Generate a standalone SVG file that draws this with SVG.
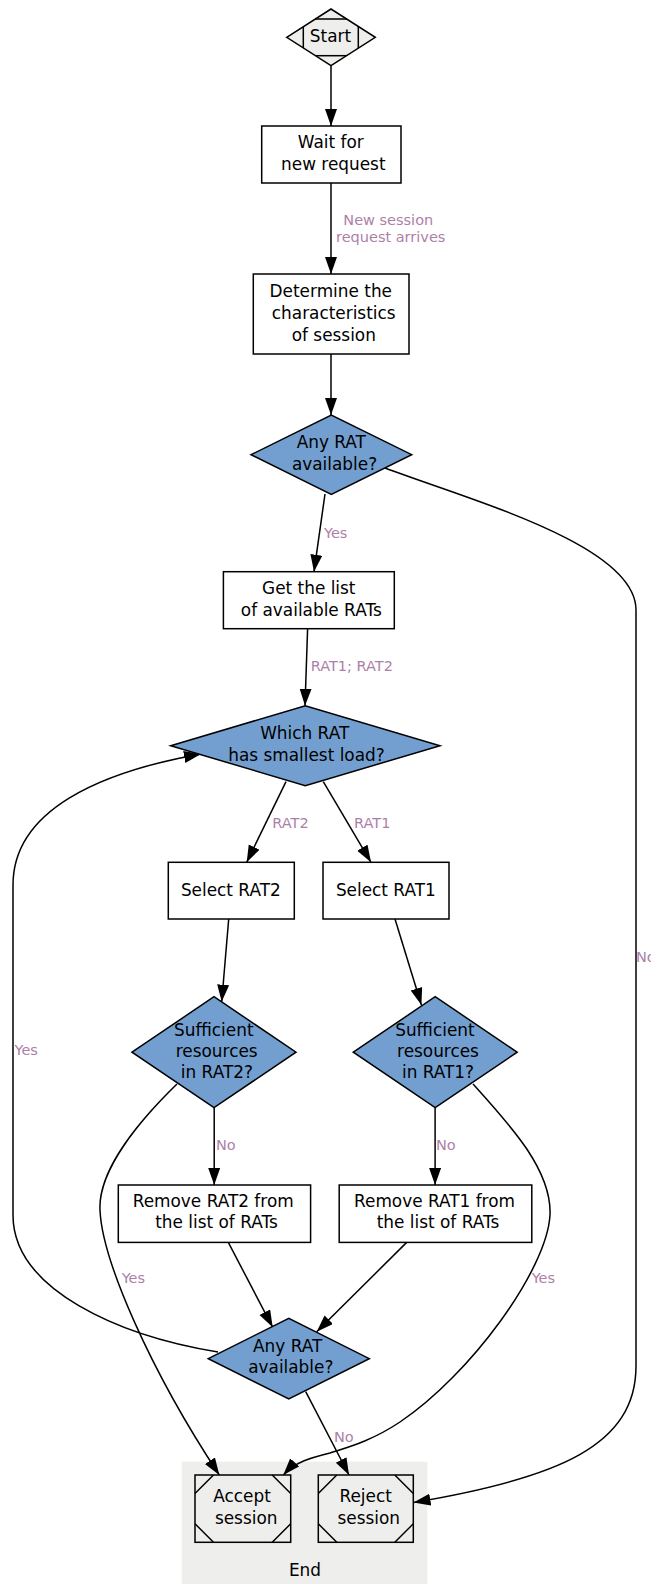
<svg xmlns="http://www.w3.org/2000/svg" width="651" height="1584" viewBox="0 0 651 1584">
  <defs>
    <style>
      .box { fill: #ffffff; stroke: #000000; stroke-width: 1.5; }
      .dec { fill: #729fcf; stroke: #000000; stroke-width: 1.5; }
      .term { fill: #eeeeec; stroke: #000000; stroke-width: 1.5; }
      .mark { fill: none; stroke: #000000; stroke-width: 1.5; }
      .t { font-family: "DejaVu Sans", "Liberation Sans", sans-serif; font-size: 16.9px; fill: #000000; text-anchor: middle; }
      .lbl { font-family: "DejaVu Sans", "Liberation Sans", sans-serif; font-size: 14.5px; fill: #ad7fa8; }
      .edge { fill: none; stroke: #000000; stroke-width: 1.5; marker-end: url(#arrow); }
    </style>
    <marker id="arrow" markerUnits="userSpaceOnUse" markerWidth="18" markerHeight="13" refX="17" refY="6" orient="auto">
      <path d="M0,0 L17,6 L0,12 Z" fill="#000000"/>
    </marker>
    <clipPath id="startClip">
      <polygon points="286.7,37.3 331,9 375.3,37.3 331,65.7"/>
    </clipPath>
  </defs>

  <!-- cluster holding the terminal states -->
  <g id="cluster_end">
    <rect x="181.7" y="1461.7" width="245.6" height="130" fill="#eeeeec"/>
    <text class="t" x="305" y="1576">End</text>
  </g>

  <!-- connectors -->
  <g id="edges">
    <path class="edge" d="M331,65.7 L331,126"/>
    <path class="edge" d="M331,183 L331,274"/>
    <path class="edge" d="M331,354 L331,415"/>
    <path class="edge" d="M325,494 L314,571.7"/>
    <path class="edge" d="M307.6,628.7 L305,705.7"/>
    <path class="edge" d="M286,781.7 L246.7,862.3"/>
    <path class="edge" d="M323.3,781.7 L371,862.3"/>
    <path class="edge" d="M228.7,919 L221.7,1001.7"/>
    <path class="edge" d="M395,919 L421.4,1005"/>
    <path class="edge" d="M214.2,1107.7 L214.2,1185"/>
    <path class="edge" d="M435.1,1107.7 L435.1,1185"/>
    <path class="edge" d="M228.3,1242.4 L272.7,1327.3"/>
    <path class="edge" d="M406.7,1242.4 L316.7,1331.7"/>
    <path class="edge" d="M305.7,1391.7 L349,1475"/>
    <!-- retry loop back to the load decision -->
    <path class="edge" d="M218,1352 C120,1336 13,1290 13,1215 L13,885 C13,810 100,772 201,754"/>
    <!-- accept paths -->
    <path class="edge" d="M177,1084 C140,1120 98,1170 100,1210 C102,1260 150,1370 219.3,1475"/>
    <path class="edge" d="M473,1084 C510,1125 552,1170 550,1215 C547,1270 470,1375 400,1422 C370,1442 345,1448 330,1453 C310,1458 295,1462 283.3,1475"/>
    <!-- no RAT at all -->
    <path class="edge" d="M385,468 C470,500 636,545 636,610 L636,1366 C636,1445 560,1478 413.5,1502.5"/>

    <text class="lbl" x="343.3" y="225">New session</text>
    <text class="lbl" x="336" y="242.3">request arrives</text>
    <text class="lbl" x="324" y="537.7">Yes</text>
    <text class="lbl" x="310.7" y="670.7">RAT1; RAT2</text>
    <text class="lbl" x="272.3" y="828.3">RAT2</text>
    <text class="lbl" x="354" y="828.3">RAT1</text>
    <text class="lbl" x="636" y="961.7">No</text>
    <text class="lbl" x="14.5" y="1055">Yes</text>
    <text class="lbl" x="216" y="1150">No</text>
    <text class="lbl" x="436" y="1150">No</text>
    <text class="lbl" x="121.7" y="1283.3">Yes</text>
    <text class="lbl" x="531.7" y="1283.3">Yes</text>
    <text class="lbl" x="334" y="1441.7">No</text>
  </g>

  <g id="start">
    <polygon class="term" points="286.7,37.3 331,9 375.3,37.3 331,65.7"/>
    <rect class="mark" x="303.3" y="19" width="55" height="36.7" clip-path="url(#startClip)"/>
    <text class="t" x="330.5" y="41.7">Start</text>
  </g>

  <g id="wait">
    <rect class="box" x="261.7" y="126" width="139.3" height="57"/>
    <text class="t" x="330.8" y="148">Wait for</text>
    <text class="t" x="333.3" y="170">new request</text>
  </g>

  <g id="determine">
    <rect class="box" x="253.3" y="274" width="155.7" height="80"/>
    <text class="t" x="330.8" y="297">Determine the</text>
    <text class="t" x="333.7" y="319">characteristics</text>
    <text class="t" x="333.8" y="340.5">of session</text>
  </g>

  <g id="any_rat_1">
    <polygon class="dec" points="251,454.7 331.3,415 411.7,454.7 331.3,494.3"/>
    <text class="t" x="331.3" y="448.3">Any RAT</text>
    <text class="t" x="334.5" y="469.5">available?</text>
  </g>

  <g id="get_list">
    <rect class="box" x="223.4" y="571.7" width="170.9" height="57"/>
    <text class="t" x="308.8" y="594.3">Get the list</text>
    <text class="t" x="311.3" y="616">of available RATs</text>
  </g>

  <g id="smallest_load">
    <polygon class="dec" points="170.7,745.7 305.3,705.7 440,745.7 305.3,785.7"/>
    <text class="t" x="304.7" y="739">Which RAT</text>
    <text class="t" x="306.5" y="760.5">has smallest load?</text>
  </g>

  <g id="select_rat2">
    <rect class="box" x="168.3" y="862.3" width="126" height="56.7"/>
    <text class="t" x="230.8" y="896">Select RAT2</text>
  </g>

  <g id="select_rat1">
    <rect class="box" x="323" y="862.3" width="126" height="56.7"/>
    <text class="t" x="385.8" y="896">Select RAT1</text>
  </g>

  <g id="sufficient_rat2">
    <polygon class="dec" points="132,1052.2 214,996.7 296,1052.2 214,1107.7"/>
    <text class="t" x="213.8" y="1035.7">Sufficient</text>
    <text class="t" x="216.7" y="1057.3">resources</text>
    <text class="t" x="216.9" y="1078.3">in RAT2?</text>
  </g>

  <g id="sufficient_rat1">
    <polygon class="dec" points="353.3,1052.2 435.2,996.7 517.2,1052.2 435.2,1107.7"/>
    <text class="t" x="434.9" y="1035.7">Sufficient</text>
    <text class="t" x="438" y="1057.3">resources</text>
    <text class="t" x="438" y="1078.3">in RAT1?</text>
  </g>

  <g id="remove_rat2">
    <rect class="box" x="118.3" y="1185" width="192.3" height="57.4"/>
    <text class="t" x="213.2" y="1206.7">Remove RAT2 from</text>
    <text class="t" x="216.5" y="1227.7">the list of RATs</text>
  </g>

  <g id="remove_rat1">
    <rect class="box" x="339.2" y="1185" width="192.6" height="57.4"/>
    <text class="t" x="434.5" y="1206.7">Remove RAT1 from</text>
    <text class="t" x="438" y="1227.7">the list of RATs</text>
  </g>

  <g id="any_rat_2">
    <polygon class="dec" points="208.3,1358.7 288.8,1318.3 369.3,1358.7 288.8,1399"/>
    <text class="t" x="287.7" y="1351.7">Any RAT</text>
    <text class="t" x="290.8" y="1373.3">available?</text>
  </g>

  <g id="accept">
    <rect class="term" x="195" y="1475" width="95.7" height="67.3"/>
    <path class="mark" d="M195,1493.5 L213.5,1475 M272.2,1475 L290.7,1493.5 M290.7,1523.8 L272.2,1542.3 M213.5,1542.3 L195,1523.8"/>
    <text class="t" x="242" y="1501.7">Accept</text>
    <text class="t" x="246.2" y="1524.3">session</text>
  </g>

  <g id="reject">
    <rect class="term" x="318.3" y="1475" width="95" height="67.3"/>
    <path class="mark" d="M318.3,1493.5 L336.8,1475 M394.8,1475 L413.3,1493.5 M413.3,1523.8 L394.8,1542.3 M336.8,1542.3 L318.3,1523.8"/>
    <text class="t" x="365.7" y="1501.7">Reject</text>
    <text class="t" x="368.8" y="1524.3">session</text>
  </g>
</svg>
